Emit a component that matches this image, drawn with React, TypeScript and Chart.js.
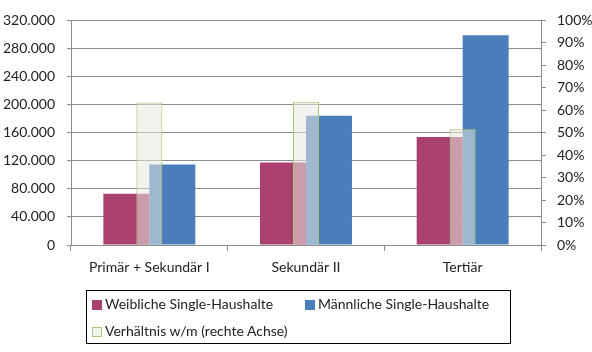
import React, { useEffect, useRef } from "react";
import { Chart, registerables } from "chart.js";

Chart.register(...registerables);

const categories = ["Primär + Sekundär I", "Sekundär II", "Tertiär"];
const weiblich = [73000, 117600, 154000];
const maennlich = [114800, 184200, 299000];
const verhaeltnis = [0.635, 0.638, 0.515];
const leftTicksMax = 320000;
const leftStep = 40000;
const rightTicksMax = 1;
const rightStep = 0.1;
const seriesNames = [
  "Weibliche Single-Haushalte",
  "Männliche Single-Haushalte",
  "Verhältnis w/m (rechte Achse)",
];

const CRIMSON = "#A9406E";
const BLUE = "#4A7EBB";
const RATIO_FILL = "rgba(232,232,224,0.55)";
const RATIO_BORDER = "#A9C974";
const GRID = "#8C8C8C";
const FONT = "Lato, 'Open Sans', sans-serif";

function fmtThousands(v: number): string {
  return String(Math.round(v)).replace(/\B(?=(\d{3})+(?!\d))/g, ".");
}

export default function App() {
  const ref = useRef<HTMLCanvasElement | null>(null);

  useEffect(() => {
    document.body.style.margin = "0";
    const canvas = ref.current;
    if (!canvas) return;
    const chart = new Chart(canvas, {
      type: "bar",
      data: {
        labels: categories,
        datasets: [
          {
            label: seriesNames[2],
            data: verhaeltnis,
            yAxisID: "y1",
            backgroundColor: RATIO_FILL,
            borderColor: RATIO_BORDER,
            borderWidth: 1,
            grouped: false,
            categoryPercentage: 1,
            barPercentage: 0.166,
            order: 0,
          },
          {
            label: seriesNames[0],
            data: weiblich,
            yAxisID: "y",
            backgroundColor: CRIMSON,
            borderWidth: 0,
            categoryPercentage: 0.587,
            barPercentage: 1,
            order: 1,
          },
          {
            label: seriesNames[1],
            data: maennlich,
            yAxisID: "y",
            backgroundColor: BLUE,
            borderWidth: 0,
            categoryPercentage: 0.587,
            barPercentage: 1,
            order: 2,
          },
        ],
      },
      options: {
        animation: false,
        responsive: false,
        maintainAspectRatio: false,
        layout: { padding: { left: 0, right: 0, top: 16, bottom: 72 } },
        plugins: {
          legend: { display: false },
          tooltip: { enabled: false },
        },
        scales: {
          x: {
            type: "category",
            offset: true,
            grid: {
              display: true,
              offset: true,
              drawOnChartArea: false,
              drawTicks: true,
              tickLength: 6,
              color: GRID,
            },
            border: { display: true, color: GRID },
            ticks: {
              color: "#222",
              font: { family: FONT, size: 14 },
              padding: 8,
              maxRotation: 0,
            },
            afterFit: (s: any) => {
              s.height = 35;
            },
          },
          y: {
            position: "left",
            min: 0,
            max: leftTicksMax,
            ticks: {
              stepSize: leftStep,
              color: "#222",
              font: { family: FONT, size: 14 },
              padding: 12,
              callback: (v: any) => fmtThousands(Number(v)),
            },
            grid: { color: GRID, tickLength: 4 },
            border: { display: true, color: GRID },
            afterFit: (s: any) => {
              s.width = 71;
            },
          },
          y1: {
            position: "right",
            min: 0,
            max: rightTicksMax,
            ticks: {
              stepSize: rightStep,
              color: "#222",
              font: { family: FONT, size: 14 },
              padding: 11,
              callback: (v: any) => `${Math.round(Number(v) * 100)}%`,
            },
            grid: { drawOnChartArea: false, color: GRID, tickLength: 5 },
            border: { display: true, color: GRID },
            afterFit: (s: any) => {
              s.width = 51;
            },
          },
        },
      },
    });
    return () => chart.destroy();
  }, []);

  const swatch = (bg: string, border?: string) => ({
    display: "inline-block",
    width: 10,
    height: 10,
    background: bg,
    border: border ? `1px solid ${border}` : "none",
    boxSizing: "border-box" as const,
    marginRight: 3,
    verticalAlign: "middle",
  });

  const itemStyle = (left: number, top: number) => ({
    position: "absolute" as const,
    left,
    top,
    whiteSpace: "nowrap" as const,
    fontFamily: FONT,
    fontSize: 14,
    color: "#222",
    lineHeight: "18px",
  });

  return (
    <div style={{ position: "relative", width: 592, height: 352, background: "#fff" }}>
      <canvas ref={ref} width={592} height={352} style={{ display: "block" }} />
      <div
        style={{
          position: "absolute",
          left: 86,
          top: 290,
          width: 425,
          height: 54,
          border: "1px solid #000",
          boxSizing: "border-box",
        }}
      />
      <div style={itemStyle(92, 295)}>
        <span style={swatch(CRIMSON)} />
        {seriesNames[0]}
      </div>
      <div style={itemStyle(305, 295)}>
        <span style={swatch(BLUE)} />
        {seriesNames[1]}
      </div>
      <div style={itemStyle(92, 322)}>
        <span style={swatch("#F2F5EC", RATIO_BORDER)} />
        {seriesNames[2]}
      </div>
    </div>
  );
}
